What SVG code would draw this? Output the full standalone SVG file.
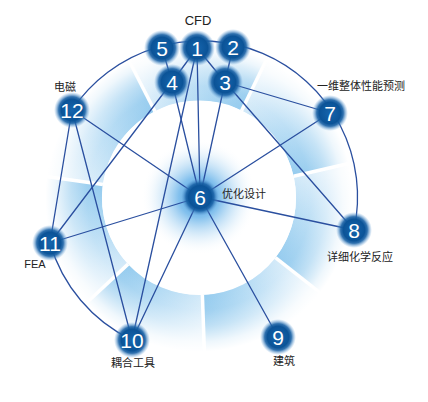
<svg xmlns="http://www.w3.org/2000/svg" width="428" height="402" viewBox="0 0 428 402">
<style>
.lnk{stroke:#2a4f9f;stroke-width:1.3;fill:none;stroke-linecap:round}
.sep{stroke:#fff;stroke-width:3.5}
.num{font-family:"Liberation Sans",Arial,sans-serif;font-size:21px;fill:#fff;text-anchor:middle}
.lbl{font-family:"Liberation Sans","Noto Sans CJK SC",sans-serif;font-size:11px;fill:#222;text-anchor:middle}
</style>
<defs>
<radialGradient id="nodeG" cx="0.5" cy="0.5" r="0.5">
<stop offset="0" stop-color="#1565ad"/>
<stop offset="0.6" stop-color="#0b5397"/>
<stop offset="0.74" stop-color="#1a62a6" stop-opacity="0.9"/>
<stop offset="1" stop-color="#6aa6dc" stop-opacity="0"/>
</radialGradient>
<radialGradient id="glow" cx="199" cy="197" r="58" gradientUnits="userSpaceOnUse">
<stop offset="0" stop-color="#3a95dc"/>
<stop offset="0.35" stop-color="#6cb5ea" stop-opacity="0.85"/>
<stop offset="0.7" stop-color="#b9dcf5" stop-opacity="0.4"/>
<stop offset="1" stop-color="#ffffff" stop-opacity="0"/>
</radialGradient>
<radialGradient id="fade" cx="199" cy="198" r="160" gradientUnits="userSpaceOnUse">
<stop offset="0.61" stop-color="#fff" stop-opacity="0"/>
<stop offset="0.7" stop-color="#fff" stop-opacity="0.1"/>
<stop offset="0.8" stop-color="#fff" stop-opacity="0.42"/>
<stop offset="0.9" stop-color="#fff" stop-opacity="0.85"/>
<stop offset="0.96" stop-color="#fff" stop-opacity="1"/>
</radialGradient>
<linearGradient id="gs">
<stop offset="0" stop-color="#dceefa"/><stop offset="0.5" stop-color="#b4dbf4"/><stop offset="1" stop-color="#8cc7ed"/>
</linearGradient>
<linearGradient id="g0" href="#gs" gradientUnits="userSpaceOnUse" x1="75.2" y1="180.6" x2="142.3" y2="86.6"/>
<linearGradient id="g1" href="#gs" gradientUnits="userSpaceOnUse" x1="142.3" y1="86.6" x2="253.8" y2="85.7"/>
<linearGradient id="g2" href="#gs" gradientUnits="userSpaceOnUse" x1="253.8" y1="85.7" x2="320.8" y2="169.9"/>
<linearGradient id="g3" href="#gs" gradientUnits="userSpaceOnUse" x1="320.8" y1="169.9" x2="297.5" y2="275"/>
<linearGradient id="g4" href="#gs" gradientUnits="userSpaceOnUse" x1="297.5" y1="275" x2="203.4" y2="322.9"/>
<linearGradient id="g5" href="#gs" gradientUnits="userSpaceOnUse" x1="203.4" y1="322.9" x2="107.6" y2="283.3"/>
<linearGradient id="g6" href="#gs" gradientUnits="userSpaceOnUse" x1="107.6" y1="283.3" x2="75.2" y2="180.6"/>
</defs>
<rect width="428" height="402" fill="#fff"/>
<g id="ring">
<path fill="url(#g0)" d="M42.53 176.01 A158 158 0 0 1 127.27 57.22 L154.96 111.57 A97 97 0 0 0 102.94 184.5 Z"/>
<path fill="url(#g1)" d="M127.27 57.22 A158 158 0 0 1 268.27 55.99 L241.52 110.82 A97 97 0 0 0 154.96 111.57 Z"/>
<path fill="url(#g2)" d="M268.27 55.99 A158 158 0 0 1 352.95 162.45 L293.51 176.18 A97 97 0 0 0 241.52 110.82 Z"/>
<path fill="url(#g3)" d="M352.95 162.45 A158 158 0 0 1 323.5 295.28 L275.44 257.72 A97 97 0 0 0 293.51 176.18 Z"/>
<path fill="url(#g4)" d="M323.5 295.28 A158 158 0 0 1 204.51 355.91 L202.39 294.94 A97 97 0 0 0 275.44 257.72 Z"/>
<path fill="url(#g5)" d="M204.51 355.91 A158 158 0 0 1 83.44 305.76 L128.06 264.15 A97 97 0 0 0 202.39 294.94 Z"/>
<path fill="url(#g6)" d="M83.44 305.76 A158 158 0 0 1 42.53 176.01 L102.94 184.5 A97 97 0 0 0 128.06 264.15 Z"/>
<circle cx="199" cy="198" r="160" fill="url(#fade)"/>
<g class="sep">
<line x1="154.96" y1="111.57" x2="127.27" y2="57.22"/>
<line x1="241.52" y1="110.82" x2="268.27" y2="55.99"/>
<line x1="293.51" y1="176.18" x2="352.95" y2="162.45"/>
<line x1="275.44" y1="257.72" x2="323.5" y2="295.28"/>
<line x1="202.39" y1="294.94" x2="204.51" y2="355.91"/>
<line x1="128.06" y1="264.15" x2="83.44" y2="305.76"/>
<line x1="102.94" y1="184.5" x2="42.53" y2="176.01"/>
</g>
<circle cx="199" cy="197.5" r="97" fill="#fff"/>
<circle cx="199" cy="197" r="58" fill="url(#glow)"/>
</g>
<g id="connectors" class="lnk">
<path d="M72 110 A156 156 0 0 1 354 230"/>
<path d="M50 243 A156 156 0 0 0 132 340"/>
<line x1="162" y1="48" x2="172" y2="82"/>
<line x1="197" y1="48" x2="172" y2="82"/>
<line x1="197" y1="48" x2="225" y2="82"/>
<line x1="233" y1="47" x2="225" y2="82"/>
<line x1="225" y1="82" x2="330" y2="113"/>
<line x1="225" y1="82" x2="354" y2="230"/>
<line x1="197" y1="48" x2="200" y2="197"/>
<line x1="172" y1="82" x2="200" y2="197"/>
<line x1="225" y1="82" x2="200" y2="197"/>
<line x1="197" y1="48" x2="132" y2="340"/>
<line x1="172" y1="82" x2="50" y2="243"/>
<line x1="72" y1="110" x2="200" y2="197"/>
<line x1="72" y1="110" x2="50" y2="243"/>
<line x1="72" y1="110" x2="132" y2="340"/>
<line x1="50" y1="243" x2="200" y2="197"/>
<line x1="132" y1="340" x2="200" y2="197"/>
<line x1="330" y1="113" x2="200" y2="197"/>
<line x1="354" y1="230" x2="200" y2="197"/>
<line x1="278" y1="337" x2="200" y2="197"/>
</g>
<g id="n1"><circle cx="197" cy="48" r="18" fill="url(#nodeG)"/><text class="num" x="197" y="55.5">1</text></g>
<g id="n2"><circle cx="233" cy="47" r="18" fill="url(#nodeG)"/><text class="num" x="233" y="54.5">2</text></g>
<g id="n3"><circle cx="225" cy="82" r="18" fill="url(#nodeG)"/><text class="num" x="225" y="89.5">3</text></g>
<g id="n4"><circle cx="172" cy="82" r="18" fill="url(#nodeG)"/><text class="num" x="172" y="89.5">4</text></g>
<g id="n5"><circle cx="162" cy="48" r="18" fill="url(#nodeG)"/><text class="num" x="162" y="55.5">5</text></g>
<g id="n6"><circle cx="200" cy="197" r="19" fill="url(#nodeG)"/><text class="num" x="200" y="204.5">6</text></g>
<g id="n7"><circle cx="330" cy="113" r="18" fill="url(#nodeG)"/><text class="num" x="330" y="120.5">7</text></g>
<g id="n8"><circle cx="354" cy="230" r="18" fill="url(#nodeG)"/><text class="num" x="354" y="237.5">8</text></g>
<g id="n9"><circle cx="278" cy="337" r="18" fill="url(#nodeG)"/><text class="num" x="278" y="344.5">9</text></g>
<g id="n10"><circle cx="132" cy="340" r="18" fill="url(#nodeG)"/><text class="num" x="132" y="347.5">10</text></g>
<g id="n11"><circle cx="50" cy="243" r="18" fill="url(#nodeG)"/><text class="num" x="50" y="250.5">11</text></g>
<g id="n12"><circle cx="72" cy="110" r="18" fill="url(#nodeG)"/><text class="num" x="72" y="117.5">12</text></g>
<g id="labels">
<text class="lbl" x="198" y="25" style="font-size:13px">CFD</text>
<text class="lbl" x="65" y="91">电磁</text>
<text class="lbl" x="361" y="90">一维整体性能预测</text>
<text class="lbl" x="222" y="197.5" style="text-anchor:start">优化设计</text>
<text class="lbl" x="360" y="261">详细化学反应</text>
<text class="lbl" x="284" y="364.5">建筑</text>
<text class="lbl" x="133" y="367">耦合工具</text>
<text class="lbl" x="35" y="268">FEA</text>
</g>
</svg>
